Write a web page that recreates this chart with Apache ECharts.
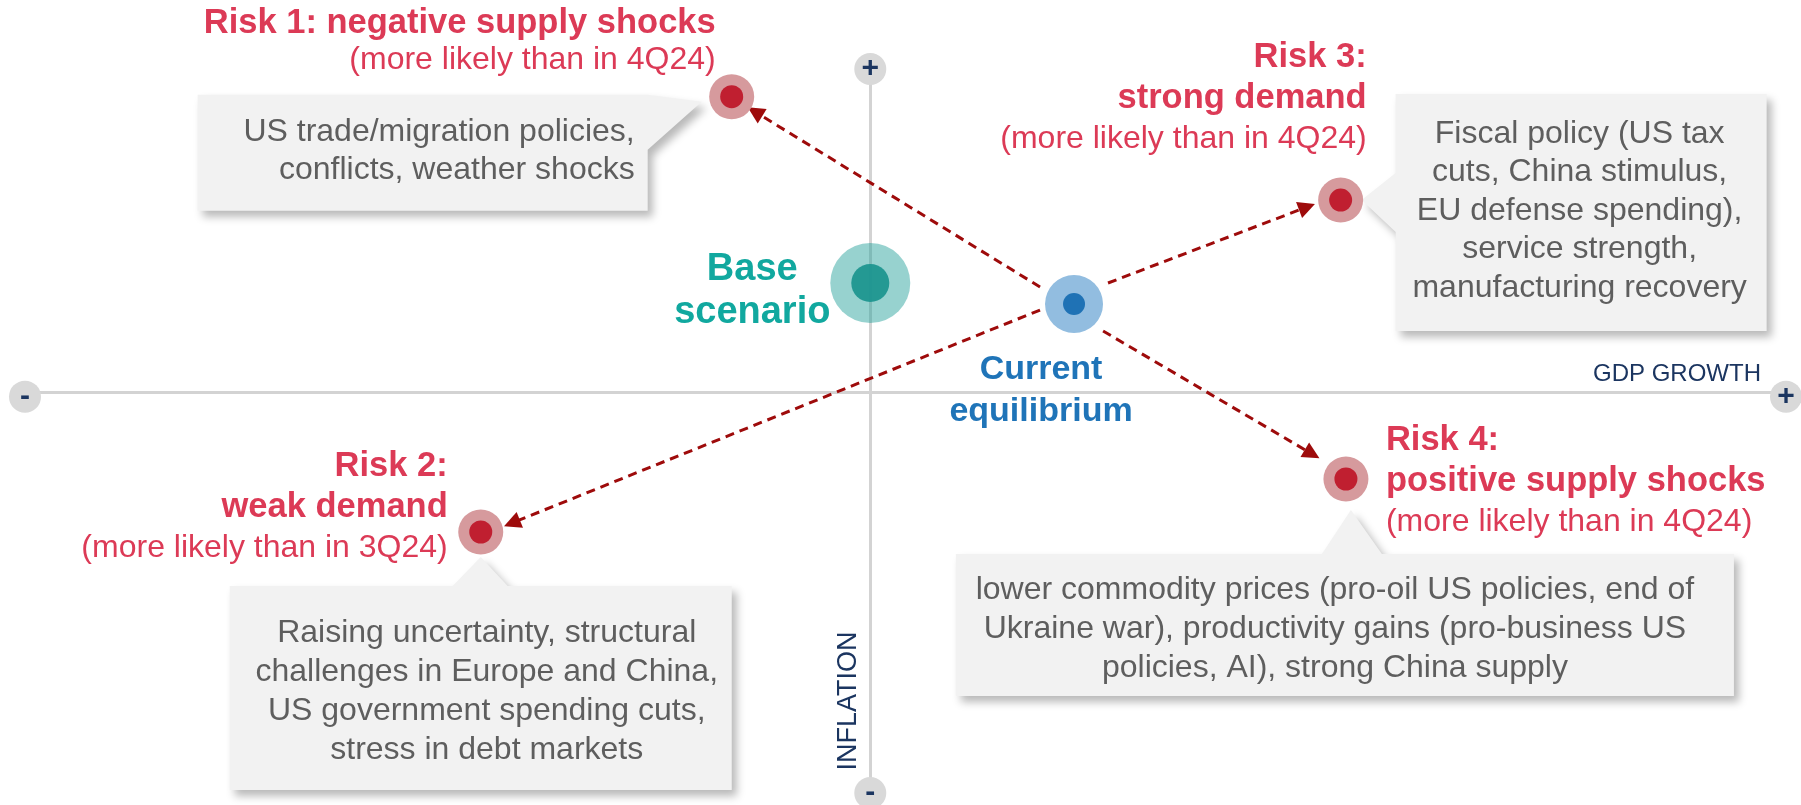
<!DOCTYPE html>
<html>
<head>
<meta charset="utf-8">
<title>Risk scenarios</title>
<script src="https://cdn.jsdelivr.net/npm/echarts@6/dist/echarts.min.js"></script>
<style>
html,body{margin:0;padding:0;background:#fff;}
#chart{width:1801px;height:805px;}
</style>
</head>
<body>
<div id="chart"></div>
<script>
// ---- data (GDP growth on x, inflation on y, arbitrary units) ----
var axisEndX = [-48, 52, 0, 0];
var axisEndY = [0, 0, 44.7, -55.3];
var axisEndSign = ['-', '+', '+', '-'];

var centreNames = ['Base scenario', 'Current equilibrium'];
var centreX = [0, 11.57];
var centreY = [15.14, 12.24];
var centreText = ['Base\nscenario', 'Current\nequilibrium'];

var riskNames = ['Risk 1', 'Risk 2', 'Risk 3', 'Risk 4'];
var riskX = [-7.87, -22.12, 26.71, 27.01];
var riskY = [40.87, -19.25, 26.60, -11.93];
var riskTitle = [
  ['Risk 1: negative supply shocks'],
  ['Risk 2:', 'weak demand'],
  ['Risk 3:', 'strong demand'],
  ['Risk 4:', 'positive supply shocks']
];
var riskLikely = ['(more likely than in 4Q24)', '(more likely than in 3Q24)', '(more likely than in 4Q24)', '(more likely than in 4Q24)'];
var riskDrivers = [
  ['US trade/migration policies,', 'conflicts, weather shocks'],
  ['Raising uncertainty, structural', 'challenges in Europe and China,', 'US government spending cuts,', 'stress in debt markets'],
  ['Fiscal policy (US tax', 'cuts, China stimulus,', 'EU defense spending),', 'service strength,', 'manufacturing recovery'],
  ['lower commodity prices (pro-oil US policies, end of', 'Ukraine war), productivity gains (pro-business US', 'policies, AI), strong China supply']
];

// arrows from current equilibrium towards each risk
var arrowFromX = [9.64, 9.64, 13.50, 13.22];
var arrowFromY = [14.59, 11.41, 15.14, 8.51];
var arrowToX = [-6.55, -20.35, 24.80, 25.09];
var arrowToY = [38.80, -18.01, 25.64, -8.48];

// ---- styles / layout ----
var FONT = "'Liberation Sans', Arial, sans-serif";
var RED = '#dc3a56';
var NAVY = '#1b3560';

var centreStyle = [
  { halo: 'rgba(34,160,154,0.47)', core: 'rgba(26,148,142,0.92)', haloSize: 80, coreSize: 38, color: '#11a89f', fontSize: 38, lineHeight: 43, offset: [-118, 8] },
  { halo: '#92bde0', core: '#1f72b5', haloSize: 58, coreSize: 22, color: '#1f74b8', fontSize: 34, lineHeight: 42, offset: [-33, 87] }
];
var riskLabelStyle = [
  { align: 'right', offset: [-16, -55], lineHeight: 37 },
  { align: 'right', offset: [-33, -25], lineHeight: 41 },
  { align: 'right', offset: [26, -102], lineHeight: 41 },
  { align: 'left', offset: [40, 2], lineHeight: 41 }
];
// callout outlines relative to the risk dot (px)
var calloutShapes = [
  { outline: [[-534, -2], [-84, -2], [-30, 5], [-84, 53], [-84, 114], [-534, 114]], align: 'right', textX: -97, textY: 35, lineHeight: 38 },
  { outline: [[-251, 54], [-28, 54], [0, 25], [27, 54], [251, 54], [251, 258], [-251, 258]], align: 'center', textX: 6, textY: 101, lineHeight: 39 },
  { outline: [[55, -106], [426, -106], [426, 131], [55, 131], [55, 32], [21, 0], [55, -27]], align: 'center', textX: 239, textY: -66, lineHeight: 38.5 },
  { outline: [[-390, 75], [-24, 75], [5, 31], [36, 75], [388, 75], [388, 217], [-390, 217]], align: 'center', textX: -11, textY: 111, lineHeight: 39 }
];

var haloData = [], coreData = [];
centreNames.forEach(function (n, i) {
  var s = centreStyle[i];
  haloData.push({
    name: n, value: [centreX[i], centreY[i]], symbolSize: s.haloSize, itemStyle: { color: s.halo, opacity: 1 },
    label: {
      show: true, position: 'inside', align: 'center', verticalAlign: 'middle', offset: s.offset,
      formatter: centreText[i], color: s.color, fontSize: s.fontSize, fontWeight: 'bold', fontFamily: FONT, lineHeight: s.lineHeight
    }
  });
  coreData.push({ name: n, value: [centreX[i], centreY[i]], symbolSize: s.coreSize, itemStyle: { color: s.core, opacity: 1 } });
});
riskNames.forEach(function (n, i) {
  var s = riskLabelStyle[i];
  var txt = riskTitle[i].map(function (l) { return '{t|' + l + '}'; }).join('\n') + '\n{s|' + riskLikely[i] + '}';
  haloData.push({
    name: n, value: [riskX[i], riskY[i]], symbolSize: 45, itemStyle: { color: '#d69a9d', opacity: 1 },
    label: {
      show: true, position: 'inside', align: s.align, verticalAlign: 'middle', offset: s.offset,
      formatter: txt,
      rich: {
        t: { color: RED, fontSize: 34.5, fontWeight: 'bold', fontFamily: FONT, lineHeight: s.lineHeight, align: s.align },
        s: { color: RED, fontSize: 32, fontFamily: FONT, lineHeight: s.lineHeight, align: s.align }
      }
    }
  });
  coreData.push({ name: n, value: [riskX[i], riskY[i]], symbolSize: 23, itemStyle: { color: '#c01f30', opacity: 1 } });
});

var arrowData = arrowFromX.map(function (x, i) {
  return { coords: [[x, arrowFromY[i]], [arrowToX[i], arrowToY[i]]] };
});

var endData = axisEndX.map(function (x, i) {
  return {
    value: [x, axisEndY[i]],
    symbolOffset: i < 2 ? [0, 4] : [0, 0],
    label: { show: true, formatter: axisEndSign[i], position: 'inside' }
  };
});

var calloutData = riskX.map(function (x, i) { return [x, riskY[i]]; });

function renderCallout(params, api) {
  var i = params.dataIndex;
  var c = api.coord([api.value(0), api.value(1)]);
  var box = calloutShapes[i];
  var pts = box.outline.map(function (p) { return [c[0] + p[0], c[1] + p[1]]; });
  return {
    type: 'group',
    children: [{
      type: 'polygon',
      shape: { points: pts },
      style: { fill: '#f2f2f2', shadowBlur: 9, shadowOffsetX: 5, shadowOffsetY: 6, shadowColor: 'rgba(0,0,0,0.28)' }
    }, {
      type: 'text',
      x: c[0] + box.textX,
      y: c[1] + box.textY - box.lineHeight / 2,
      style: {
        text: riskDrivers[i].join('\n'), align: box.align, verticalAlign: 'top',
        fontSize: 32, fontFamily: FONT, lineHeight: box.lineHeight, fill: '#5e5e5e'
      }
    }]
  };
}

var chart = echarts.init(document.getElementById('chart'), null, { renderer: 'canvas' });
chart.setOption({
  animation: false,
  backgroundColor: '#ffffff',
  grid: { left: 25, right: 15, top: 69, bottom: 12, containLabel: false, outerBoundsMode: 'none' },
  xAxis: {
    type: 'value', min: -48, max: 52,
    axisLine: { onZero: true, lineStyle: { color: '#d3d3d3', width: 3 } },
    axisTick: { show: false }, axisLabel: { show: false }, splitLine: { show: false },
    name: 'GDP GROWTH', nameLocation: 'end', nameGap: -25,
    nameTextStyle: { align: 'right', verticalAlign: 'bottom', color: NAVY, fontSize: 24, fontFamily: FONT, padding: [0, 0, 6, 0] }
  },
  yAxis: {
    type: 'value', min: -55.3, max: 44.7,
    axisLine: { onZero: true, lineStyle: { color: '#d3d3d3', width: 3 } },
    axisTick: { show: false }, axisLabel: { show: false }, splitLine: { show: false },
    name: 'INFLATION', nameLocation: 'start', nameGap: -92, nameRotate: 90,
    nameTextStyle: { align: 'center', verticalAlign: 'bottom', color: NAVY, fontSize: 27, fontFamily: FONT, padding: [0, 0, 8, 0] }
  },
  series: [{
    type: 'custom', name: 'callouts', coordinateSystem: 'cartesian2d', z: 1, clip: false,
    renderItem: renderCallout, data: calloutData, encode: { x: 0, y: 1 }, silent: true
  }, {
    type: 'lines', name: 'arrows', coordinateSystem: 'cartesian2d', z: 2,
    symbol: ['none', 'triangle'], symbolSize: [14, 17],
    lineStyle: { color: '#9e0b0b', width: 3, type: [9, 6], opacity: 1 },
    data: arrowData
  }, {
    type: 'scatter', name: 'halo', z: 3, clip: false, itemStyle: { opacity: 1 }, data: haloData
  }, {
    type: 'scatter', name: 'core', z: 4, clip: false, itemStyle: { opacity: 1 }, data: coreData, label: { show: false }
  }, {
    type: 'scatter', name: 'axis ends', z: 5, clip: false, symbolSize: 32,
    itemStyle: { color: '#d9d9d9', opacity: 1 },
    label: { color: NAVY, fontSize: 30, fontWeight: 'bold', fontFamily: FONT },
    data: endData
  }]
});
</script>
</body>
</html>
